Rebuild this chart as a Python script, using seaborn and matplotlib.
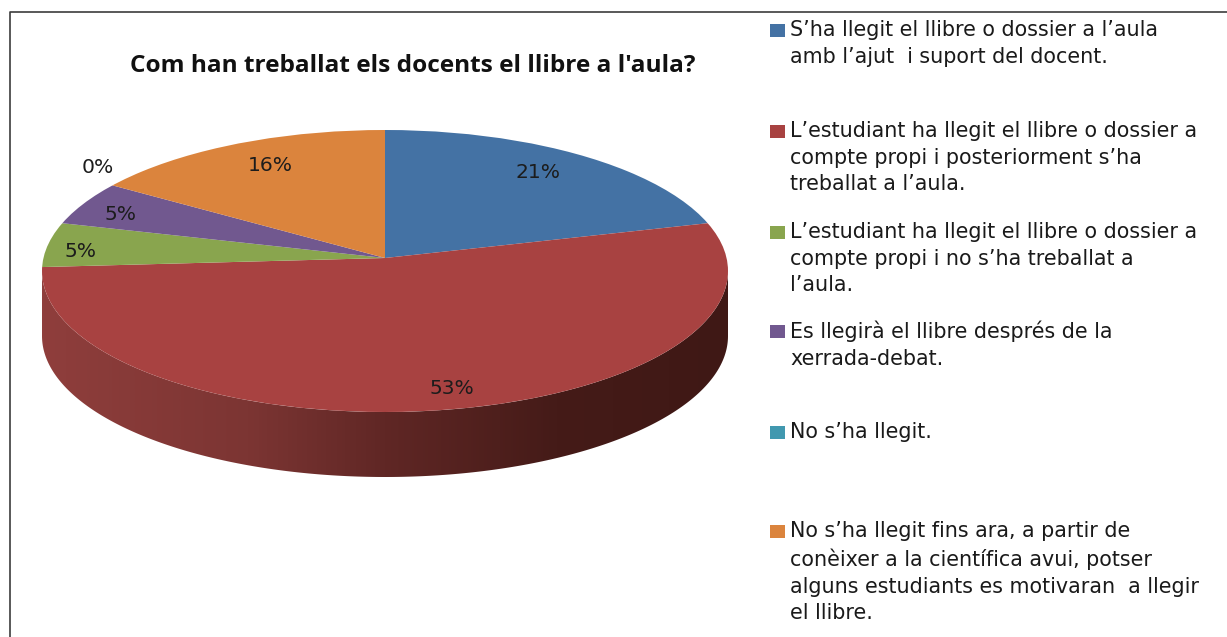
import numpy as np
import matplotlib
matplotlib.use("Agg")
import matplotlib.pyplot as plt
import seaborn as sns
from matplotlib.colors import LinearSegmentedColormap
from matplotlib.lines import Line2D
from matplotlib.patches import Ellipse, Polygon, Rectangle

title = "Com han treballat els docents el llibre a l'aula?"
categories = [
    "S’ha llegit el llibre o dossier a l’aula\namb l’ajut  i suport del docent.",
    "L’estudiant ha llegit el llibre o dossier a\ncompte propi i posteriorment s’ha\ntreballat a l’aula.",
    "L’estudiant ha llegit el llibre o dossier a\ncompte propi i no s’ha treballat a\nl’aula.",
    "Es llegirà el llibre després de la\nxerrada-debat.",
    "No s’ha llegit.",
    "No s’ha llegit fins ara, a partir de\nconèixer a la científica avui, potser\nalguns estudiants es motivaran  a llegir\nel llibre.",
]
values = [21, 53, 5, 5, 0, 16]
colors = ["#4472a4", "#a84241", "#89a54e", "#71588f", "#4198af", "#db843d"]

W, H = 1227, 637
SQUASH = 0.42
APEX = (385, 258)
FACE_CX, FACE_CY, FACE_RX, FACE_RY = 385, 271, 343, 141
DEPTH = 65

sns.set_theme(style="white")
plt.rcParams["font.family"] = ["DejaVu Sans"]
palette = sns.color_palette(colors)

fig = plt.figure(figsize=(W / 100, H / 100), dpi=100, facecolor="white")
ax = fig.add_axes([0, 0, 1, 1])


def yd(py):
    return (H - py) / SQUASH


def fx(px):
    return px / W


def fy(py):
    return 1 - py / H


# Side wall of the disc, shaded left to right
theta = np.linspace(0, np.pi, 300)
ex = FACE_CX + FACE_RX * np.cos(theta)
ey = FACE_CY + FACE_RY * np.sin(theta)
side = np.column_stack([
    np.concatenate([ex, ex[::-1]]),
    np.concatenate([yd(ey), yd(ey[::-1] + DEPTH)]),
])
side_patch = Polygon(side, closed=True, fc="none", ec="none")
ax.add_patch(side_patch)
cmap = LinearSegmentedColormap.from_list(
    "wall", [(0, "#8f3e3c"), (0.3, "#7c3533"), (0.5, "#602725"), (0.75, "#451b18"), (1, "#3f1815")]
)
img = ax.imshow(
    np.linspace(0, 1, 512).reshape(1, -1), cmap=cmap, aspect="auto",
    extent=(FACE_CX - FACE_RX, FACE_CX + FACE_RX, yd(FACE_CY + FACE_RY + DEPTH), yd(FACE_CY)),
    zorder=1,
)
img.set_clip_path(side_patch)

# Top face: pie from the apex, trimmed to the ellipse
wedges, _ = ax.pie(
    values, colors=palette, startangle=90, counterclock=False,
    center=(APEX[0], yd(APEX[1])), radius=1500, frame=True,
    wedgeprops={"linewidth": 0, "zorder": 2},
)
face = Ellipse((FACE_CX, yd(FACE_CY)), 2 * FACE_RX, 2 * FACE_RY / SQUASH, fc="none", ec="none",
               transform=ax.transData)
ax.add_patch(face)
for w in wedges:
    w.set_clip_on(True)
    w.set_clip_path(face)

ax.set_aspect("auto")
ax.set_xlim(0, W)
ax.set_ylim(0, H / SQUASH)
ax.axis("off")

# Slice labels
label_pos = [(538, 173), (452, 389), (80, 252), (121, 214), (98, 168), (270, 166)]
for v, (px, py) in zip(values, label_pos):
    fig.text(fx(px), fy(py), f"{v}%", ha="center", va="center", fontsize=14.6, color="#1c1c1c",
             zorder=5)

fig.text(fx(413), fy(66), title, ha="center", va="center", fontsize=17.6,
         fontweight="bold", family="Open Sans", color="#111111", zorder=5)

# Legend
legend_y = [31, 132, 233, 332, 433, 532]
for name, c, py in zip(categories, palette, legend_y):
    fig.add_artist(Rectangle((fx(770), fy(py + 6)), 15 / W, 13 / H, transform=fig.transFigure,
                             fc=c, ec="none"))
    fig.text(fx(790), fy(py - 11), name, ha="left", va="top", fontsize=14.9, color="#1a1a1a",
             linespacing=1.42, zorder=5)

# Outer frame
fig.add_artist(Line2D([fx(10), fx(10), 1], [0, fy(12), fy(12)], transform=fig.transFigure,
                      color="#3c3c3c", lw=1.2))

fig.savefig("out.png", dpi=100, facecolor="white")
